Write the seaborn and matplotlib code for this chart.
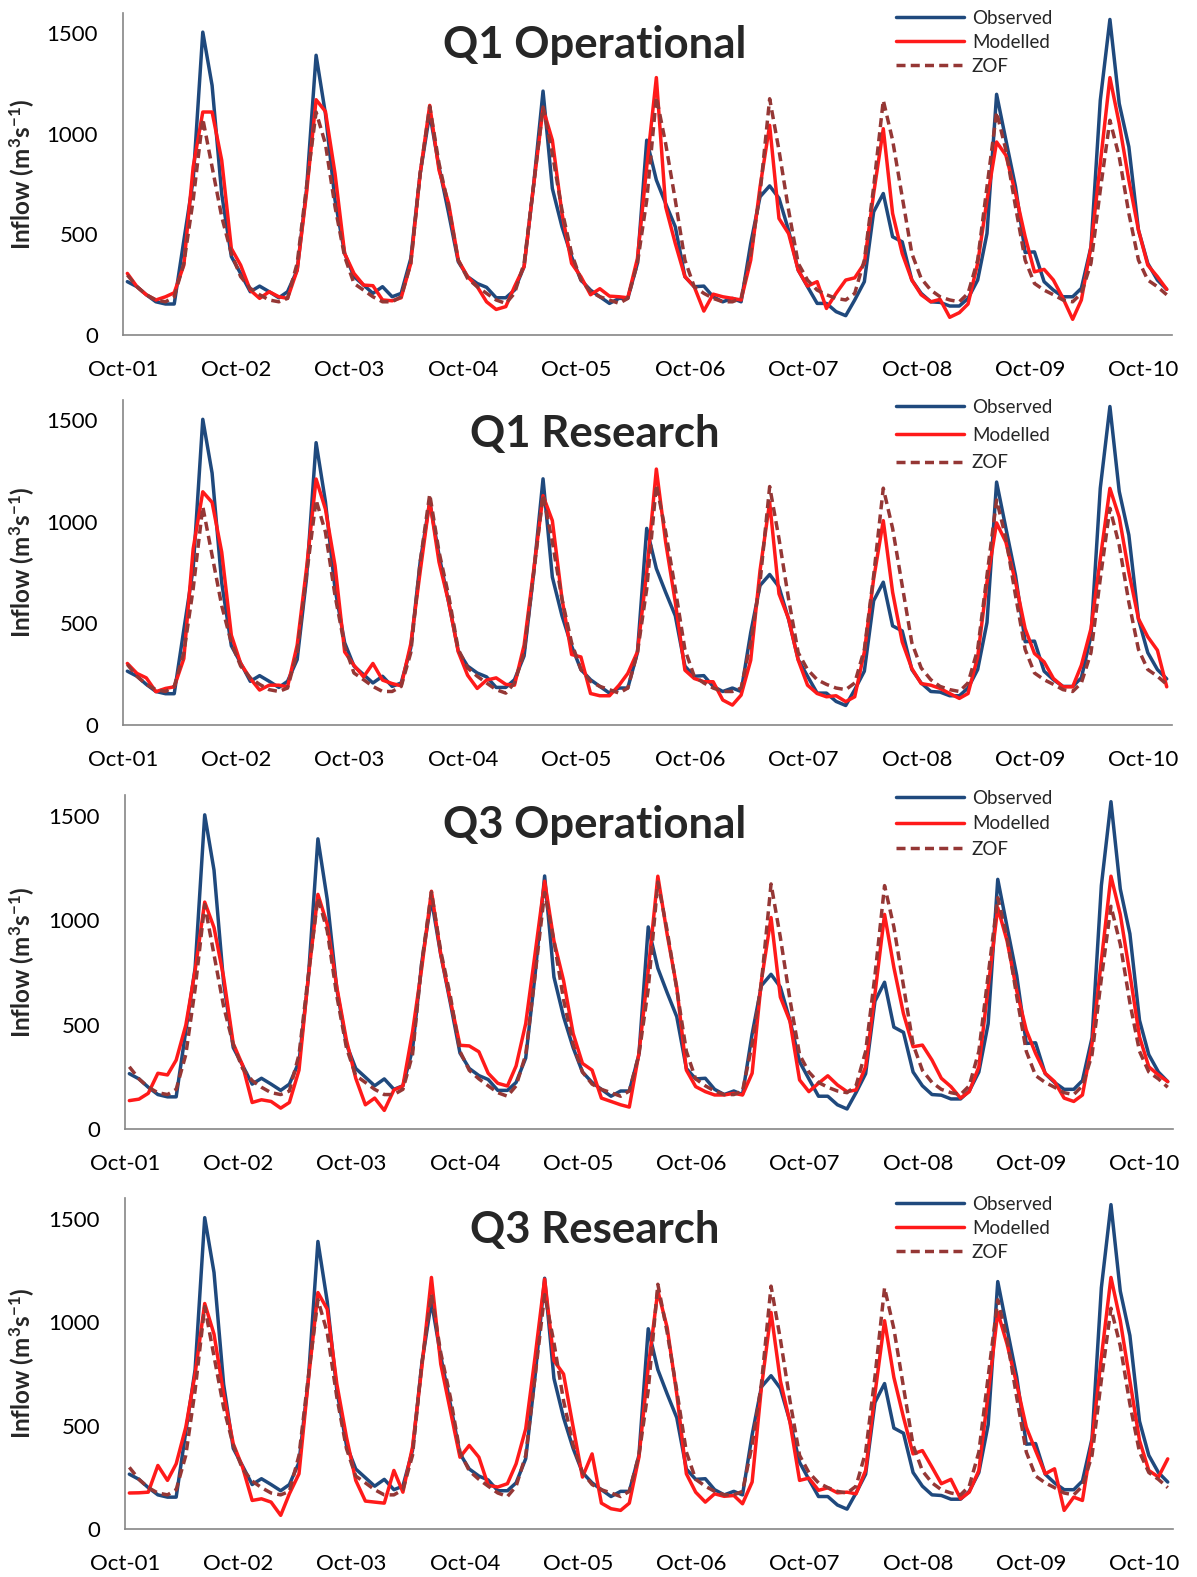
import numpy as np
import pandas as pd
import matplotlib
matplotlib.use("Agg")
import matplotlib.pyplot as plt
import matplotlib.dates as mdates
import seaborn as sns

# ---------------------------------------------------------------- data
# Monthly mean inflow (m3/s), Oct 2001 - Dec 2010
observed = [
    265, 240, 200, 165, 154, 154, 470, 770, 1505, 1240, 700, 390,
    305, 215, 243, 215, 185, 215, 322, 720, 1390, 1100, 670, 405,
    290, 248, 207, 240, 190, 207, 380, 800, 1100, 835, 604, 364,
    290, 256, 237, 185, 185, 223, 340, 736, 1212, 728, 538, 389,
    273, 223, 190, 157, 182, 182, 356, 968, 770, 653, 538, 290,
    240, 243, 190, 165, 182, 165, 455, 687, 741, 680, 520, 322,
    240, 157, 157, 116, 96, 174, 265, 612, 703, 488, 463, 273,
    207, 165, 162, 144, 144, 182, 273, 504, 1196, 968, 736, 410,
    413, 265, 223, 190, 190, 232, 438, 1166, 1568, 1150, 935, 521,
    356, 273, 227,
]

zof = [
    298, 240, 200, 174, 165, 190, 356, 670, 1075, 835, 587, 405,
    290, 232, 200, 174, 165, 182, 356, 736, 1108, 950, 637, 389,
    256, 223, 190, 165, 165, 190, 356, 800, 1136, 852, 637, 372,
    281, 240, 207, 174, 157, 207, 356, 736, 1133, 901, 620, 405,
    273, 215, 190, 174, 157, 182, 356, 670, 1183, 951, 670, 372,
    240, 207, 182, 165, 165, 182, 405, 703, 1174, 918, 620, 356,
    273, 223, 200, 182, 174, 207, 372, 736, 1166, 968, 686, 405,
    281, 223, 190, 174, 165, 207, 372, 736, 1108, 918, 637, 372,
    256, 223, 200, 174, 165, 207, 356, 720, 1067, 885, 604, 372,
    273, 240, 200,
]

modelled_q1_operational = [
    306, 240, 200, 174, 190, 210, 347, 835, 1108, 1108, 868, 430,
    347, 223, 182, 215, 190, 182, 322, 703, 1169, 1111, 802, 405,
    306, 248, 245, 174, 170, 185, 356, 800, 1141, 819, 653, 372,
    290, 240, 165, 127, 141, 240, 340, 736, 1125, 968, 604, 356,
    290, 200, 230, 193, 190, 185, 380, 835, 1279, 637, 455, 290,
    240, 119, 203, 190, 182, 174, 372, 736, 1042, 579, 504, 322,
    243, 265, 132, 207, 273, 284, 356, 703, 1025, 604, 405, 273,
    200, 165, 177, 88, 111, 154, 356, 670, 959, 893, 703, 488,
    314, 326, 273, 182, 78, 174, 438, 852, 1279, 1050, 769, 521,
    347, 290, 227,
]

modelled_q1_research = [
    303, 254, 232, 164, 180, 188, 327, 867, 1148, 1096, 851, 442,
    303, 229, 172, 196, 196, 188, 393, 769, 1211, 1063, 785, 360,
    294, 237, 303, 221, 204, 193, 400, 752, 1104, 802, 605, 360,
    245, 180, 221, 232, 200, 196, 393, 752, 1129, 1006, 622, 347,
    335, 155, 144, 144, 196, 254, 360, 752, 1260, 900, 605, 270,
    229, 213, 213, 123, 98, 147, 319, 761, 1096, 646, 523, 319,
    196, 155, 139, 144, 115, 139, 360, 720, 1006, 654, 409, 278,
    204, 196, 180, 155, 131, 155, 335, 703, 995, 900, 703, 474,
    352, 311, 229, 188, 188, 294, 474, 818, 1165, 1023, 752, 523,
    434, 368, 188,
]

modelled_q3_operational = [
    136, 143, 171, 267, 259, 330, 497, 759, 1087, 965, 727, 409,
    306, 127, 140, 132, 100, 127, 282, 727, 1124, 981, 679, 425,
    243, 116, 148, 89, 187, 206, 465, 774, 1139, 838, 616, 401,
    398, 370, 267, 219, 206, 302, 505, 838, 1187, 901, 711, 457,
    314, 282, 148, 132, 116, 105, 362, 759, 1211, 933, 679, 282,
    203, 179, 163, 163, 171, 163, 267, 711, 1013, 632, 516, 235,
    179, 219, 255, 211, 179, 187, 298, 647, 1028, 774, 552, 394,
    402, 330, 243, 203, 148, 179, 298, 679, 1060, 901, 663, 473,
    362, 267, 227, 148, 132, 163, 409, 806, 1211, 1028, 743, 441,
    298, 259, 227,
]

modelled_q3_research = [
    174, 175, 178, 307, 235, 315, 492, 749, 1090, 942, 653, 412,
    299, 138, 146, 130, 66, 170, 267, 717, 1143, 1063, 701, 444,
    235, 135, 130, 125, 283, 178, 396, 781, 1216, 798, 572, 347,
    404, 347, 211, 203, 219, 315, 484, 830, 1208, 814, 749, 492,
    251, 363, 125, 98, 90, 125, 347, 781, 1151, 974, 653, 267,
    178, 130, 170, 158, 162, 122, 227, 685, 1047, 717, 516, 235,
    246, 187, 199, 175, 178, 170, 283, 653, 1007, 733, 540, 363,
    379, 299, 219, 240, 146, 178, 283, 653, 1047, 894, 701, 492,
    379, 267, 291, 90, 154, 138, 428, 830, 1216, 1007, 717, 428,
    283, 251, 339,
]

panel_titles = ["Q1 Operational", "Q1 Research", "Q3 Operational", "Q3 Research"]
panel_modelled = [modelled_q1_operational, modelled_q1_research,
                  modelled_q3_operational, modelled_q3_research]
series_labels = ["Observed", "Modelled", "ZOF"]
y_ticks = [0, 500, 1000, 1500]

# mid-month time stamps
months = pd.date_range("2001-10-01", periods=len(observed), freq="MS") + pd.Timedelta(days=14)

# ---------------------------------------------------------------- style
sns.set_style("white")
plt.rcParams["font.family"] = ["Lato", "DejaVu Sans"]
plt.rcParams["mathtext.fontset"] = "custom"
plt.rcParams["mathtext.rm"] = "Lato"
plt.rcParams["mathtext.bf"] = "Lato:bold"
plt.rcParams["mathtext.default"] = "bf"

C_OBS = "#1F497D"
C_MOD = "#FF1A1A"
C_ZOF = "#953735"
C_AXIS = "#868686"
LW = 2.5

W, H = 1197, 1577
fig = plt.figure(figsize=(W / 100, H / 100), dpi=100)

# axes boxes in pixels: left, top, right, bottom
boxes = [(123, 13, 1172, 335), (123, 400, 1172, 725),
         (125, 795, 1173, 1129), (125, 1198, 1173, 1529)]
title_base = [58, 447, 838, 1243]
legend_top = [10, 399, 790, 1196]
legend_spacing = [0.37, 0.57, 0.45, 0.37]

for k in range(4):
    l, t, r, b = boxes[k]
    ax = fig.add_axes([l / W, 1 - b / H, (r - l) / W, (b - t) / H])
    df = pd.DataFrame({"month": months, "Observed": observed,
                       "Modelled": panel_modelled[k], "ZOF": zof})

    sns.lineplot(data=df, x="month", y="Observed", ax=ax, color=C_OBS,
                 linewidth=LW, label="Observed")
    sns.lineplot(data=df, x="month", y="Modelled", ax=ax, color=C_MOD,
                 linewidth=LW, label="Modelled")
    sns.lineplot(data=df, x="month", y="ZOF", ax=ax, color=C_ZOF,
                 linewidth=LW, linestyle=(0, (2.6, 1.5)), label="ZOF")

    ax.set_xlim(pd.Timestamp("2001-10-01"), pd.Timestamp("2011-01-01"))
    ax.set_ylim(0, 1600)
    ax.set_yticks(y_ticks)
    ax.xaxis.set_major_locator(mdates.MonthLocator(bymonth=10, bymonthday=1))
    ax.xaxis.set_major_formatter(mdates.DateFormatter("%b-%y"))
    ax.set_xlabel("")
    ax.set_ylabel(r"Inflow (m$^{3}$s$^{-1}$)", fontsize=17.5, fontweight="bold")
    ax.yaxis.set_label_coords((37 - l) / (r - l), 0.5)

    for side in ["top", "right"]:
        ax.spines[side].set_visible(False)
    for side in ["left", "bottom"]:
        ax.spines[side].set_color(C_AXIS)
        ax.spines[side].set_linewidth(1.2)
    ax.tick_params(axis="both", direction="out", length=6, width=1.2,
                   color=C_AXIS, labelsize=16, labelcolor="black")
    ax.tick_params(axis="x", pad=12)
    ax.tick_params(axis="y", pad=12)

    fig.text(595 / W, 1 - title_base[k] / H, panel_titles[k], fontsize=31.5,
             fontweight="bold", ha="center", va="baseline")

    ax.legend(loc="upper left", bbox_to_anchor=(896 / W, 1 - legend_top[k] / H),
              bbox_transform=fig.transFigure, frameon=False, fontsize=13.5,
              borderpad=0, borderaxespad=0, handlelength=3.6,
              handletextpad=0.45, labelspacing=legend_spacing[k])

fig.savefig("out.png", dpi=100)
